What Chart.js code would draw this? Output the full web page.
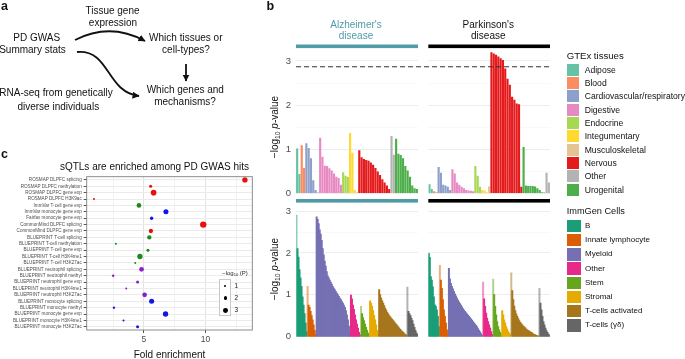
<!DOCTYPE html>
<html><head><meta charset="utf-8">
<script src="https://cdn.jsdelivr.net/npm/chart.js@4.4.1/dist/chart.umd.min.js"></script>
<style>
html,body{margin:0;padding:0}
body{width:685px;height:359px;overflow:hidden;background:#fff;position:relative;font-family:'Liberation Sans',Arial,Helvetica,sans-serif;color:#111}
canvas.full{position:absolute;left:0;top:0}
.t{position:absolute;white-space:nowrap;line-height:1;z-index:5}
.c{transform:translate(-50%,-50%)}
.l{transform:translate(0,-50%)}
.box{position:absolute;z-index:5}
sub{font-size:0.68em;vertical-align:-0.25em;line-height:0}
</style></head><body>
<svg width="685" height="359" style="position:absolute;left:0;top:0;z-index:4">
<defs><marker id="ah" markerUnits="userSpaceOnUse" markerWidth="8" markerHeight="7" refX="6.5" refY="3.5" orient="auto"><path d="M0,0 L7,3.5 L0,7 Z" fill="#111"/></marker></defs>
<path d="M75,40 Q110,22 145,41" fill="none" stroke="#111" stroke-width="1.8" marker-end="url(#ah)"/>
<path d="M77,52 C110,49 106,92 139,96" fill="none" stroke="#111" stroke-width="1.8" marker-end="url(#ah)"/>
<path d="M186,64 L186,81" fill="none" stroke="#111" stroke-width="1.8" marker-end="url(#ah)"/>
</svg>
<script>
// ---------------- DATA ----------------
const gtexGroups = ['Adipose','Blood','Cardiovascular/respiratory','Digestive','Endocrine','Integumentary','Musculoskeletal','Nervous','Other','Urogenital'];
const adGtexOrder = ['Adipose','Blood','Cardiovascular/respiratory','Digestive','Endocrine','Integumentary','Musculoskeletal','Nervous','Other','Urogenital'];
const adGtexValues = [
  [1.02,0.44],
  [1.09,0.58],
  [1.14,1.03,0.80,0.30,0.08,0.02],
  [1.26,0.83,0.63,0.62,0.57,0.52,0.45,0.38,0.35,0.20],
  [0.48,0.40,0.38],
  [1.37,0.92,0.08],
  [0.03],
  [0.98,0.82,0.78,0.76,0.74,0.70,0.65,0.58,0.50,0.42,0.32,0.25,0.18,0.10],
  [1.30,0.88],
  [1.24,0.90,0.87,0.80,0.62,0.52,0.38,0.18,0.12,0.10]
];
const pdGtexOrder = ['Adipose','Blood','Cardiovascular/respiratory','Digestive','Endocrine','Integumentary','Musculoskeletal','Nervous','Urogenital','Other'];
const pdGtexValues = [
  [0.21,0.10],
  [0.05,0.03],
  [0.60,0.47,0.20,0.18,0.15,0.08],
  [0.55,0.45,0.25,0.20,0.15,0.12,0.08,0.07,0.06,0.05],
  [0.62,0.40,0.15],
  [0.08,0.07,0.03],
  [0.16],
  [3.20,3.17,3.14,3.10,3.06,3.02,2.83,2.60,2.46,2.19,2.12,2.04,2.02,0.15],
  [1.05,0.18,0.17,0.17,0.17,0.16,0.12,0.08,0.03,0.02],
  [0.47,0.25]
];
const gtexThreshold = 2.87;

const immgenGroups = ['B','Innate lymphocyte','Myeloid','Other','Stem','Stromal','T-cells activated','T-cells (\u03b3\u03b4)'];
const adImmgenValues = [
  [2.90,2.10,1.90,1.60,1.40,1.20,0.95,0.75,0.55,0.32,0.12],
  [1.20,0.75,0.70,0.60,0.50,0.40,0.28,0.15,0.05],
  [2.86,2.80,2.70,2.55,2.45,2.30,2.10,1.95,1.80,1.68,1.55,1.45,1.40,1.35,1.30,1.25,1.20,1.16,1.12,1.08,1.04,1.00,0.96,0.92,0.88,0.84,0.80,0.75,0.70,0.62,0.52,0.40,0.25,0.10],
  [0.99,0.90,0.75,0.65,0.52,0.40,0.30,0.20,0.10,0.04],
  [0.72,0.55,0.45,0.38,0.30,0.22,0.15,0.08,0.03],
  [0.85,0.80,0.72,0.62,0.50,0.40,0.28,0.15,0.05],
  [1.12,1.00,0.92,0.85,0.80,0.74,0.68,0.63,0.58,0.54,0.50,0.47,0.44,0.41,0.38,0.35,0.32,0.29,0.26,0.23,0.20,0.17,0.14,0.12,0.10,0.07,0.05,0.03],
  [1.18,0.60,0.55,0.50,0.44,0.38,0.30,0.22,0.15,0.09,0.05]
];
const pdImmgenValues = [
  [1.99,1.89,1.43,1.35,1.19,0.95,0.76,0.72,0.64,0.48,0.24],
  [1.70,1.35,1.15,0.88,0.64,0.48,0.32,0.16,0.04],
  [1.63,1.38,1.27,1.20,1.14,1.08,1.02,0.97,0.92,0.87,0.83,0.79,0.75,0.71,0.67,0.63,0.60,0.57,0.54,0.51,0.48,0.45,0.42,0.39,0.36,0.33,0.30,0.27,0.23,0.19,0.15,0.11,0.07,0.03],
  [1.30,0.90,0.72,0.56,0.44,0.36,0.28,0.20,0.12,0.05],
  [1.37,1.00,0.72,0.52,0.36,0.24,0.16,0.10,0.04],
  [0.62,0.52,0.40,0.32,0.24,0.18,0.12,0.08,0.04],
  [1.52,1.10,0.88,0.73,0.62,0.54,0.48,0.43,0.38,0.34,0.31,0.28,0.25,0.23,0.21,0.18,0.16,0.14,0.13,0.11,0.10,0.08,0.06,0.05,0.04,0.03,0.02,0.01],
  [1.15,0.80,0.64,0.48,0.36,0.28,0.20,0.14,0.10,0.06,0.03]
];
const bYTicks = [0,1,2,3];

const qtlRows = ['ROSMAP DLPFC splicing','ROSMAP DLPFC methylation','ROSMAP DLPFC gene exp','ROSMAP DLPFC H3K9ac','ImmVar T-cell gene exp','ImmVar monocyte gene exp','Fairfax monocyte gene exp','CommonMind DLPFC splicing','CommonMind DLPFC gene exp','BLUEPRINT T-cell splicing','BLUEPRINT T-cell methylation','BLUEPRINT T-cell gene exp','BLUEPRINT T-cell H3K4me1','BLUEPRINT T-cell H3K27ac','BLUEPRINT neutrophil splicing','BLUEPRINT neutrophil methyl','BLUEPRINT neutrophil gene exp','BLUEPRINT neutrophil H3K4me1','BLUEPRINT neutrophil H3K27ac','BLUEPRINT monocyte splicing','BLUEPRINT monocyte methyl','BLUEPRINT monocyte gene exp','BLUEPRINT monocyte H3K4me1','BLUEPRINT monocyte H3K27ac'];
const foldEnrichment = [13.2,5.55,5.79,0.95,4.6,6.79,5.63,9.82,5.57,5.44,2.73,5.33,4.68,4.3,4.81,2.51,4.49,3.57,5.06,5.63,2.57,6.76,3.35,4.49];
const negLog10P = [3.45,1.5,3.7,0.7,2.9,3.2,1.8,4.3,2.6,2.6,0.7,1.5,3.45,0.7,2.9,1.0,1.5,0.7,2.9,3.2,1.0,3.45,0.7,1.5];
const rowCellType = ['brain','brain','brain','brain','T-cell','monocyte','monocyte','brain','brain','T-cell','T-cell','T-cell','T-cell','T-cell','neutrophil','neutrophil','neutrophil','neutrophil','neutrophil','monocyte','monocyte','monocyte','monocyte','monocyte'];
const foldTicks = [5,10];
const foldMinorTicks = [2.5,7.5,12.5];
const pLegendValues = [1,2,3];

// ---------------- STYLE ----------------
const gtexPalette = ['#66c2a5','#fc8d62','#8da0cb','#e78ac3','#a6d854','#ffd92f','#e5c494','#e41a1c','#b3b3b3','#4daf4a'];
const immgenPalette = ['#1b9e77','#d95f02','#7570b3','#e7298a','#66a61e','#e6ab02','#a6761d','#666666'];
const cellTypeColor = {'brain':'#ea0f0f','T-cell':'#1b8a1b','monocyte':'#1414ee','neutrophil':'#8c1ec4'};
const TEAL = '#4f9ca8';
const FONT = "'Liberation Sans', Arial, Helvetica, sans-serif";

Chart.defaults.font.family = FONT;
Chart.defaults.animation = false;
Chart.defaults.responsive = false;
Chart.defaults.devicePixelRatio = 1;
Chart.defaults.events = [];
Chart.defaults.plugins.legend.display = false;
Chart.defaults.plugins.tooltip.enabled = false;
Chart.defaults.layout.autoPadding = false;

function rgba(hex,a){const n=parseInt(hex.slice(1),16);return `rgba(${n>>16},${(n>>8)&255},${n&255},${a})`;}
function flatten(order, values, groups, palette, lightSpikes){
  const labels=[],data=[],colors=[];
  order.forEach((g,gi)=>{
    const col = palette[groups.indexOf(g)];
    values[gi].forEach((v,j)=>{
      labels.push(g+' '+(j+1)); data.push(v);
      const spike = lightSpikes && j===0 && values[gi].length>1 && v>1.25*values[gi][1];
      colors.push(spike ? rgba(col,0.5) : col);
    });
  });
  return {labels,data,colors};
}
function makeCanvas(){const c=document.createElement('canvas');c.width=685;c.height=359;c.className='full';document.body.appendChild(c);return c;}
function txt(html,x,y,size,cls,extra){const d=document.createElement('div');d.className='t '+cls;d.style.left=x+'px';d.style.top=y+'px';d.style.fontSize=size+'px';if(extra)Object.assign(d.style,extra);d.innerHTML=html;document.body.appendChild(d);return d;}

const YW = 26; // y axis width for panel b
function stripPlugin(color, off){return {id:'strip',beforeDraw(ch){const a=ch.chartArea,c=ch.ctx;c.save();c.fillStyle=color;c.fillRect(a.left,a.top-off,a.right-a.left,3.6);c.restore();}};}
function barChart(flat, area, yMax, showY, bp, inflate, plugins){
  return new Chart(makeCanvas(), {
    type:'bar',
    data:{labels:flat.labels, datasets:[{data:flat.data, backgroundColor:flat.colors, borderWidth:0, barPercentage:bp, categoryPercentage:1, inflateAmount:inflate}]},
    options:{
      layout:{padding:{left:area.left-(showY?YW:0), top:area.top, right:685-area.right, bottom:359-area.bottom}},
      scales:{
        x:{display:false, offset:true},
        y:{min:0, max:yMax,
           ticks:{stepSize:0.5, includeBounds:false, display:showY, callback:v=>bYTicks.includes(v)?String(v):'', font:{size:9.5}, color:'#4d4d4d', padding:5},
           grid:{drawTicks:false, color:c=>Number.isInteger(c.tick.value)?'#ebebeb':'#f5f5f5', lineWidth:c=>Number.isInteger(c.tick.value)?0.9:0.6},
           border:{display:false},
           afterFit:s=>{s.width=showY?YW:0;}}
      }
    },
    plugins:plugins
  });
}

// ---------------- PANEL B ----------------
const TOP = {y0:193.5, top:49.5}, BOT = {y0:336.7, top:204};
const AD_X = [296,418], PD_X = [428.3,550];
const topMax = 3.26, botMax = 3.17;

const pdTop = barChart(flatten(pdGtexOrder,pdGtexValues,gtexGroups,gtexPalette,false),
  {left:PD_X[0],right:PD_X[1],top:TOP.top,bottom:TOP.y0}, topMax, false, 0.94, 0, [stripPlugin('#000',5)]);
const pdBot = barChart(flatten(immgenGroups,pdImmgenValues,immgenGroups,immgenPalette,true),
  {left:PD_X[0],right:PD_X[1],top:BOT.top,bottom:BOT.y0}, botMax, false, 1, 0.5, [stripPlugin('#000',5)]);
const dashPlugin = {id:'dash',afterDatasetsDraw(ch){const a=ch.chartArea,c=ch.ctx,y=ch.scales.y.getPixelForValue(gtexThreshold);
  c.save();c.strokeStyle='#333';c.lineWidth=1.1;c.setLineDash([5,3]);c.beginPath();c.moveTo(a.left,y);c.lineTo(pdTop.chartArea.right,y);c.stroke();c.restore();}};
const adTop = barChart(flatten(adGtexOrder,adGtexValues,gtexGroups,gtexPalette,false),
  {left:AD_X[0],right:AD_X[1],top:TOP.top,bottom:TOP.y0}, topMax, true, 0.94, 0, [stripPlugin(TEAL,5), dashPlugin]);
const adBot = barChart(flatten(immgenGroups,adImmgenValues,immgenGroups,immgenPalette,true),
  {left:AD_X[0],right:AD_X[1],top:BOT.top,bottom:BOT.y0}, botMax, true, 1, 0.5, [stripPlugin(TEAL,5)]);

// ---------------- PANEL C ----------------
const sizeFor = p => 0.6 + 0.6*p;
const boxPlugin = {id:'box',afterDraw(ch){const a=ch.chartArea,c=ch.ctx;c.save();c.strokeStyle='#808080';c.lineWidth=0.9;c.strokeRect(a.left,a.top,a.right-a.left,a.bottom-a.top);c.restore();}};
const dotChart = new Chart(makeCanvas(), {
  type:'scatter',
  data:{datasets:[{data:foldEnrichment.map((v,i)=>({x:v,y:i})), pointRadius:negLog10P.map(sizeFor), backgroundColor:rowCellType.map(t=>cellTypeColor[t]), borderWidth:0}]},
  options:{
    layout:{padding:{left:0, top:176.7, right:685-252.3, bottom:0}},
    scales:{
      x:{type:'linear', min:0.36, max:13.8,
         afterBuildTicks:s=>{s.ticks=[...foldMinorTicks,...foldTicks].sort((a,b)=>a-b).map(v=>({value:v}));},
         ticks:{autoSkip:false, maxRotation:0, callback:v=>foldTicks.includes(v)?String(v):'', font:{size:8.5}, color:'#4d4d4d', padding:2},
         grid:{color:c=>foldTicks.includes(c.tick.value)?'#e3e3e3':'#f2f2f2', tickLength:3, tickColor:c=>foldTicks.includes(c.tick.value)?'#555':'rgba(0,0,0,0)'},
         border:{display:false}, afterFit:s=>{s.height=29;}},
      y:{type:'linear', min:-0.5, max:qtlRows.length-0.5, reverse:true,
         afterBuildTicks:s=>{s.ticks=qtlRows.map((_,i)=>({value:i}));},
         ticks:{autoSkip:false, callback:v=>qtlRows[v], font:{size:4.6}, color:'#4d4d4d', padding:2},
         grid:{color:'#ebebeb', tickLength:3, tickColor:'#555'},
         border:{display:false}, afterFit:s=>{s.width=86.7;}}
    }
  },
  plugins:[boxPlugin]
});

// ---------------- TEXT ----------------
txt('<b>a</b>',1,-0.5,12.5,'',{});
txt('<b>b</b>',266.5,-0.5,12.5,'',{});
txt('<b>c</b>',1,148,12.5,'',{});

const A=10;
txt('Tissue gene',112.5,11,A,'c');
txt('expression',113,22.5,A,'c');
txt('PD GWAS',36.7,37.5,A,'c');
txt('Summary stats',32.5,50,A,'c');
txt('Which tissues or',185.8,37.5,A,'c');
txt('cell-types?',186,50,A,'c');
txt('Which genes and',185.3,90,A,'c');
txt('mechanisms?',185,101.7,A,'c');
txt('RNA-seq from genetically',56,93.3,A,'c');
txt('diverse individuals',58.3,106.7,A,'c');

txt("Alzheimer's",356,24.5,10,'c',{color:TEAL});
txt('disease',356,35.5,10,'c',{color:TEAL});
txt("Parkinson's",488.3,24.5,10,'c');
txt('disease',488.3,35.5,10,'c');

const ytitle='\u2212log<sub>10</sub> <i>p</i>-value';
txt(ytitle,274.5,127,10,'',{transform:'translate(-50%,-50%) rotate(-90deg)'});
txt(ytitle,274.5,269,10,'',{transform:'translate(-50%,-50%) rotate(-90deg)'});

// GTEx legend
txt('GTEx tissues',566.7,55.7,9.6,'l');
gtexGroups.forEach((g,i)=>{
  const cy=69.7+13.33*i;
  const b=document.createElement('div');b.className='box';
  Object.assign(b.style,{left:'567.3px',top:(cy-6)+'px',width:'12px',height:'12px',background:gtexPalette[i]});
  document.body.appendChild(b);
  txt(g,584.7,cy,8.6,'l');
});
// ImmGen legend
txt('ImmGen Cells',566.7,211.7,9.2,'l');
immgenGroups.forEach((g,i)=>{
  const cy=226+14.2*i;
  const b=document.createElement('div');b.className='box';
  Object.assign(b.style,{left:'567.3px',top:(cy-6.3)+'px',width:'13.3px',height:'12.6px',background:immgenPalette[i]});
  document.body.appendChild(b);
  txt(g,585,cy,8,'l');
});

// Panel c texts
txt('sQTLs are enriched among PD GWAS hits',154.5,167,10,'c');
txt('Fold enrichment',169.5,355,10,'c');
txt('\u2212log<sub>10</sub> (P)',235,273,6,'c',{color:'#222'});
const lb=document.createElement('div');lb.className='box';
Object.assign(lb.style,{left:'219.3px',top:'279.3px',width:'11.7px',height:'36.4px',background:'#fff',border:'0.8px solid #c8c8c8',boxSizing:'border-box'});
document.body.appendChild(lb);
pLegendValues.forEach((p,i)=>{
  const cy=285.7+12.3*i, r=sizeFor(p);
  const d=document.createElement('div');d.className='box';
  Object.assign(d.style,{left:(225.3-r)+'px',top:(cy-r)+'px',width:2*r+'px',height:2*r+'px',borderRadius:'50%',background:'#000'});
  document.body.appendChild(d);
  txt(String(p),234.5,cy,6.5,'l',{color:'#222'});
});
</script>
</body></html>
